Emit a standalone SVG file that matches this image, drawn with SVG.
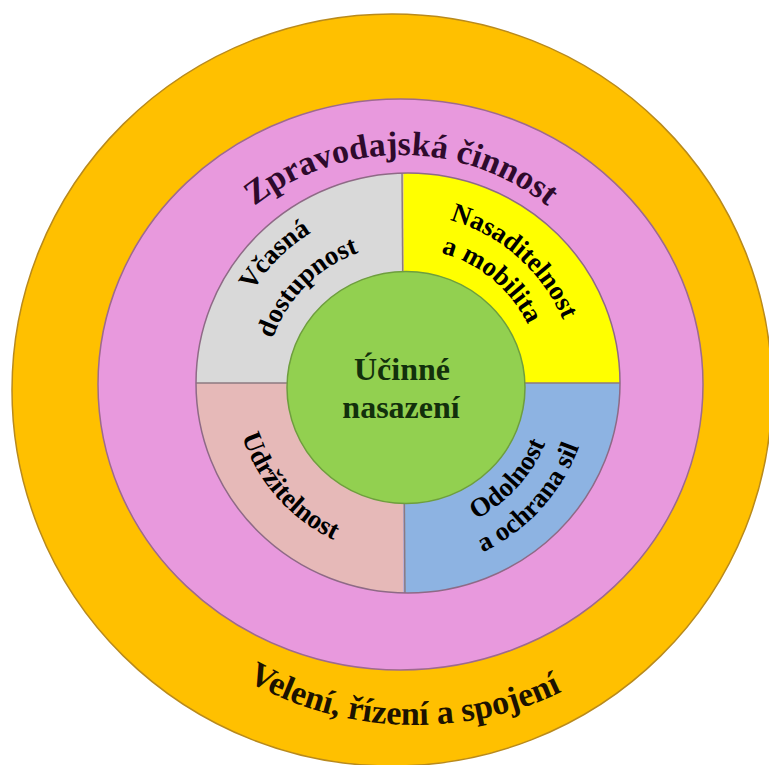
<svg xmlns="http://www.w3.org/2000/svg" width="769" height="765" viewBox="0 0 769 765">
  <style>
    .lbl { font-family: "Liberation Serif", "Times New Roman", serif; font-weight: bold; }
    .ring { font-size: 34px; }
    .quad { font-size: 27px; fill: #000000; }
    .core { font-size: 32px; fill: #12300c; text-anchor: middle; }
    .div { stroke: #8c7a80; stroke-width: 1.5; fill: none; }
  </style>
  <defs>
    <clipPath id="quadClip">
      <ellipse cx="408" cy="383" rx="212" ry="210"/>
    </clipPath>
    <!-- outer ring label paths -->
    <path id="arcTop" d="M 166 390 A 235 235 0 0 1 636 390"/>
    <path id="arcBottom" d="M 75 385 A 340 340 0 0 0 755 385"/>
    <!-- quadrant label paths (clockwise in the upper half, counter-clockwise in the lower half) -->
    <path id="tlOuter" d="M 278.4 511.6 A 179 179 0 0 1 531.6 258.4"/>
    <path id="tlInner" d="M 305.3 484.7 A 141 141 0 0 1 504.7 285.3"/>
    <path id="trOuter" d="M 281.3 261.3 A 175 175 0 0 1 528.7 508.7"/>
    <path id="trInner" d="M 308.1 288.1 A 137 137 0 0 1 501.9 481.9"/>
    <path id="blArc" d="M 281.3 261.3 A 175 175 0 0 0 528.7 508.7"/>
    <path id="brInner" d="M 297.5 492.5 A 152 152 0 0 0 512.5 277.5"/>
    <path id="brOuter" d="M 271.4 518.6 A 189 189 0 0 0 538.6 251.4"/>
  </defs>

  <!-- command, control and communications ring -->
  <g id="ring-c3">
    <ellipse cx="392" cy="390" rx="380" ry="376" fill="#FFC000" stroke="#B98A1C" stroke-width="1.5"/>
    <text class="lbl ring" fill="#1c1200"><textPath href="#arcBottom" startOffset="48.9%" text-anchor="middle">Velení, řízení a spojení</textPath></text>
  </g>

  <!-- intelligence ring -->
  <g id="ring-intel">
    <ellipse cx="400.5" cy="384.5" rx="302.5" ry="285.5" fill="#E899DD" stroke="#9E6A8E" stroke-width="1.5"/>
    <text class="lbl ring" fill="#2e0a2c"><textPath href="#arcTop" startOffset="50%" text-anchor="middle">Zpravodajská činnost</textPath></text>
  </g>

  <!-- four capability quadrants -->
  <g id="quadrants">
    <g clip-path="url(#quadClip)">
      <rect id="q-tl" x="190" y="170" width="213.5" height="213" fill="#D9D9D9"/>
      <rect id="q-tr" x="403.5" y="170" width="230" height="213" fill="#FFFF00"/>
      <rect id="q-bl" x="190" y="383" width="213.5" height="215" fill="#E6B9B8"/>
      <rect id="q-br" x="403.5" y="383" width="230" height="215" fill="#8DB3E2"/>
      <line class="div" x1="402" y1="170" x2="405" y2="598"/>
      <line class="div" x1="190" y1="383" x2="625" y2="383"/>
    </g>
    <ellipse cx="408" cy="383" rx="212" ry="210" fill="none" stroke="#8E6A86" stroke-width="1.5"/>
  </g>

  <g id="q-timely">
    <text class="lbl quad"><textPath href="#tlOuter" startOffset="50%" text-anchor="middle">Včasná</textPath></text>
    <text class="lbl quad"><textPath href="#tlInner" startOffset="50%" text-anchor="middle">dostupnost</textPath></text>
  </g>
  <g id="q-deploy">
    <text class="lbl quad"><textPath href="#trOuter" startOffset="48%" text-anchor="middle">Nasaditelnost</textPath></text>
    <text class="lbl quad"><textPath href="#trInner" startOffset="47%" text-anchor="middle">a mobilita</textPath></text>
  </g>
  <g id="q-sustain">
    <text class="lbl quad"><textPath href="#blArc" startOffset="48%" text-anchor="middle">Udržitelnost</textPath></text>
  </g>
  <g id="q-protect">
    <text class="lbl quad"><textPath href="#brInner" startOffset="51.5%" text-anchor="middle">Odolnost</textPath></text>
    <text class="lbl quad"><textPath href="#brOuter" startOffset="51.5%" text-anchor="middle">a ochrana sil</textPath></text>
  </g>

  <!-- core -->
  <g id="core">
    <ellipse cx="406" cy="387.5" rx="119" ry="116" fill="#92D050" stroke="#6E9E3E" stroke-width="1.5"/>
    <text class="lbl core" x="402" y="380">Účinné</text>
    <text class="lbl core" x="401" y="418">nasazení</text>
  </g>
</svg>
